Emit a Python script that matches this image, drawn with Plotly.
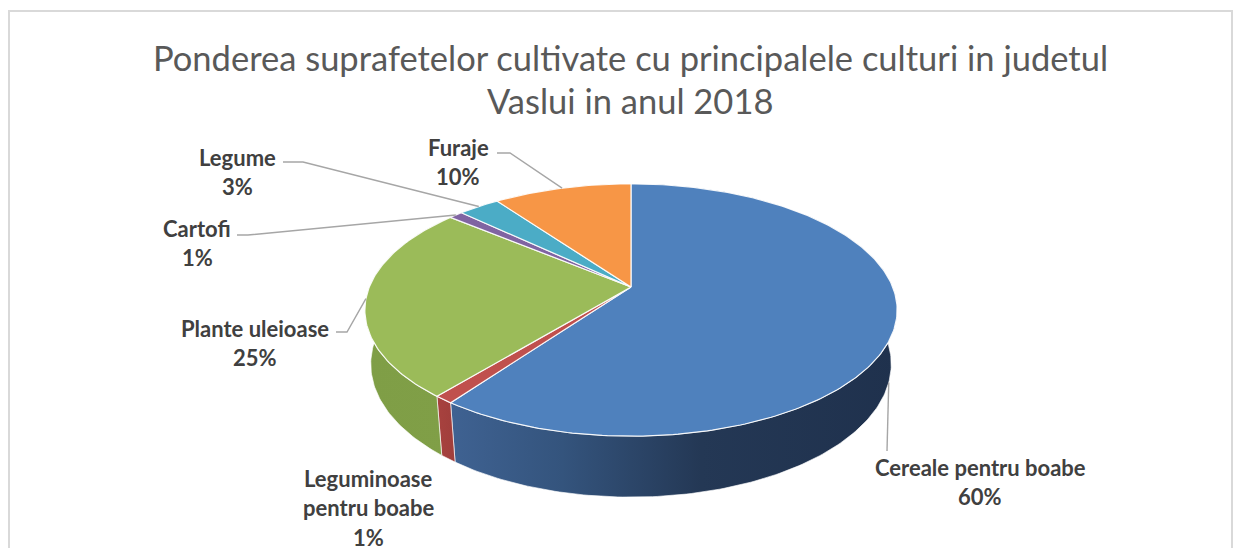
import numpy as np
import plotly.graph_objects as go

# ---------------- data ----------------
categories = ["Cereale pentru boabe", "Leguminoase pentru boabe", "Plante uleioase",
              "Cartofi", "Legume", "Furaje"]
values = [60, 1, 25, 1, 3, 10]
label_lines = [["Cereale pentru boabe"], ["Leguminoase", "pentru boabe"], ["Plante uleioase"],
               ["Cartofi"], ["Legume"], ["Furaje"]]
title_lines = ["Ponderea suprafetelor cultivate cu principalele culturi in judetul",
               "Vaslui in anul 2018"]

# ---------------- style ----------------
top_colors = ["#4F81BD", "#C0504D", "#9BBB59", "#8064A2", "#4BACC6", "#F79646"]
side_colors = [
    [[0, "#3F6292"], [0.25, "#34547D"], [0.56, "#243855"], [1, "#1F314D"]],
    [[0, "#A8423F"], [1, "#A03E3B"]],
    [[0, "#7F9E46"], [1, "#809F47"]],
    [[0, "#664F82"], [1, "#664F82"]],
    [[0, "#3A8AA0"], [1, "#3A8AA0"]],
    [[0, "#C77836"], [1, "#C77836"]],
]
# label placement (first line centre) and leader-line start points
label_pos = [(980, 467), (368, 478), (255, 328), (197, 228), (237, 157), (458, 147)]
leader_start = [[(887, 451)], None, [(336, 332), (347, 332)], [(237, 235), (248, 235)],
                [(283, 162), (303, 162)], [(497, 153), (510, 153)]]
leader_on_bottom = [True, False, False, False, False, False]
LINE_H = 29.5

W, Hpx = 1242, 548
CX, CY = 631, 287
FX, FY = 1273, 1289
DIST = 4.865
ALPHA = np.radians(27.4)
DEPTH = 0.2315


def proj(theta, r=1.0, yw=0.0):
    X = r * np.sin(theta)
    Z = r * np.cos(theta)
    s, c = np.sin(ALPHA), np.cos(ALPHA)
    Yc = Z * s + yw * c
    Zc = Z * c - yw * s
    den = DIST + Zc
    return CX + FX * X / den, CY - FY * Yc / den


total = float(sum(values))
cum = np.concatenate([[0], np.cumsum(values)]) / total * 2 * np.pi

fig = go.Figure()

# sides
for i in range(len(values)):
    a0, a1 = cum[i], cum[i + 1]
    t = np.linspace(a0, a1, max(8, int(400 * (a1 - a0) / (2 * np.pi))))
    xt, yt = proj(t)
    xb, yb = proj(t[::-1], yw=-DEPTH)
    fig.add_trace(go.Scatter(
        x=np.concatenate([xt, xb, xt[:1]]), y=np.concatenate([yt, yb, yt[:1]]),
        mode="lines", fill="toself", line=dict(color="rgba(255,255,255,0.8)", width=0.8),
        fillgradient=dict(type="horizontal", colorscale=side_colors[i]),
        hoverinfo="skip", showlegend=False))

# tops
for i in range(len(values)):
    a0, a1 = cum[i], cum[i + 1]
    t = np.linspace(a0, a1, max(8, int(400 * (a1 - a0) / (2 * np.pi))))
    xt, yt = proj(t)
    xc, yc = proj(0.0, r=0.0)
    fig.add_trace(go.Scatter(
        x=np.concatenate([[xc], xt, [xc]]), y=np.concatenate([[yc], yt, [yc]]),
        mode="lines", fill="toself", fillcolor=top_colors[i],
        line=dict(color="rgba(255,255,255,0.9)", width=1.2),
        hoverinfo="skip", showlegend=False))

# leader lines
for i in range(len(values)):
    if leader_start[i] is None:
        continue
    mid = (cum[i] + cum[i + 1]) / 2
    ex, ey = proj(mid, yw=-DEPTH if leader_on_bottom[i] else 0.0)
    pts = leader_start[i] + [(ex, ey)]
    fig.add_trace(go.Scatter(x=[p[0] for p in pts], y=[p[1] for p in pts], mode="lines",
                             line=dict(color="#A6A6A6", width=1.4),
                             hoverinfo="skip", showlegend=False))

annotations = []
for j, line in enumerate(title_lines):
    annotations.append(dict(x=630, y=57 + j * 43, text=line, showarrow=False,
                            xref="x", yref="y", xanchor="center", yanchor="middle",
                            font=dict(family="Lato", size=34.5, color="#595959")))
for i in range(len(values)):
    lx, ly = label_pos[i]
    lines = label_lines[i] + [f"{round(values[i] / total * 100)}%"]
    for k, txt in enumerate(lines):
        annotations.append(dict(x=lx, y=ly + k * LINE_H, text=txt, showarrow=False,
                                xref="x", yref="y", xanchor="center", yanchor="middle",
                                font=dict(family="Lato", size=22, color="#404040",
                                          weight="bold")))

fig.update_layout(
    width=W, height=Hpx, margin=dict(l=0, r=0, t=0, b=0),
    paper_bgcolor="white", plot_bgcolor="white",
    xaxis=dict(range=[0, W], visible=False, fixedrange=True),
    yaxis=dict(range=[Hpx, 0], visible=False, fixedrange=True),
    annotations=annotations,
    shapes=[dict(type="rect", xref="x", yref="y", x0=9, y0=11, x1=1232, y1=560,
                 line=dict(color="#D9D9D9", width=2))],
)
fig.write_html("out.html", config={"displayModeBar": False},
               post_script="document.body.style.margin='0';document.body.style.overflow='hidden';")
